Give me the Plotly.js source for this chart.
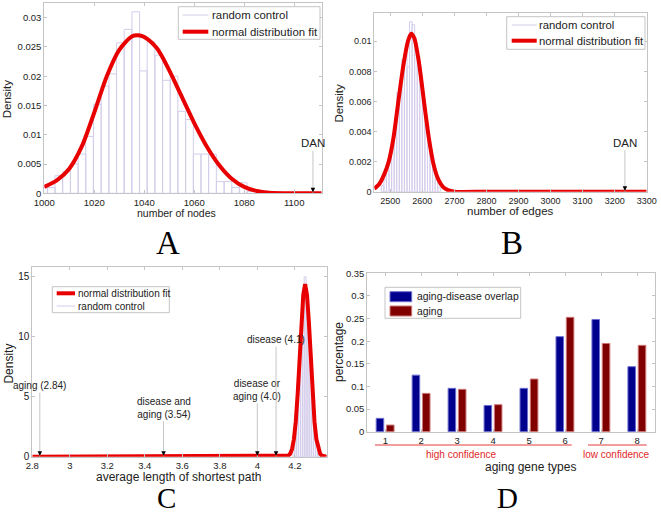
<!DOCTYPE html>
<html>
<head>
<meta charset="utf-8">
<script src="https://cdn.plot.ly/plotly-3.0.1.min.js"></script>
<style>html,body{margin:0;padding:0;background:#fff;}#chart{width:661px;height:516px;}</style>
</head>
<body>
<div id="chart"></div>
<script>
// ---------- Panel A: number of nodes ----------
const nodeBins = [999.7,1002.8,1005.8,1008.9,1012.0,1015.1,1018.1,1021.2,1024.3,1027.4,1030.4,1033.5,1036.6,1039.6,1042.7,1045.8,1048.9,1051.9,1055.0,1058.1,1061.2,1064.2,1067.3,1070.4,1073.5,1076.5,1079.6,1082.7];
const nodeDensity = [0.001,0.001,0.003,0.0037,0.005,0.0067,0.0097,0.0152,0.0183,0.0204,0.0257,0.028,0.031,0.0209,0.0259,0.0236,0.0193,0.020,0.014,0.0126,0.0067,0.0067,0.0067,0.002,0.002,0.001,0.0018,0.0003];
const nodeFitX = [1000,1005,1010,1015,1020,1025,1030,1035,1037.5,1040,1045,1050,1055,1060,1065,1070,1075,1080,1085,1090,1100,1111];
const nodeFitY = [0.0011,0.0022,0.0042,0.0080,0.0138,0.0200,0.0245,0.0268,0.0270,0.0267,0.0248,0.0210,0.0165,0.0120,0.0080,0.0048,0.0025,0.0011,0.0004,0.0001,0,0];
const nodeDAN = 1107.5;

// ---------- Panel B: number of edges ----------
const edgeBins = [2476,2484,2492,2500,2508,2516,2524,2532,2540,2548,2556,2564,2572,2580,2588,2596,2604,2612,2620,2628,2636,2644,2652];
const edgeDensity = [0.0004,0.0008,0.0014,0.0022,0.0032,0.0045,0.0066,0.0070,0.0088,0.0092,0.0083,0.0113,0.0111,0.0098,0.0090,0.0072,0.0060,0.0045,0.0036,0.0028,0.0015,0.0008,0.0003];
const edgeFitX = [2450,2465,2480,2495,2510,2525,2540,2555,2565,2575,2590,2605,2620,2635,2650,2665,2680,2700,2800,3300];
const edgeFitY = [0.0002,0.0005,0.0011,0.0020,0.0036,0.0060,0.0083,0.0100,0.0105,0.0102,0.0085,0.0060,0.0036,0.0018,0.0008,0.0003,0.0001,0,0,0];
const edgeDAN = 3232;

// ---------- Panel C: average length of shortest path ----------
const pathBins = [4.195,4.205,4.215,4.225,4.235,4.245,4.255,4.265,4.275,4.285,4.295,4.305,4.315,4.325,4.335];
const pathDensity = [1.2,3.1,5.0,8.4,11.0,13.8,15.0,13.2,11.4,7.8,5.4,2.8,1.3,0.5,0.2];
const pathFitX = [2.8,4.15,4.165,4.175,4.185,4.195,4.205,4.215,4.225,4.235,4.245,4.255,4.265,4.275,4.285,4.295,4.305,4.315,4.325,4.335,4.345,4.37];
const pathFitY = [0,0,0.08,0.24,0.63,1.45,2.9,5.2,8.1,11.2,13.5,14.4,13.5,11.2,8.1,5.2,2.9,1.45,0.63,0.24,0.08,0];
const pathMarkX = [2.84,3.5,4.0,4.1];
const pathMarkLabels = ['aging (2.84)','disease and<br>aging (3.54)','disease or<br>aging (4.0)','disease (4.1)'];

// ---------- Panel D: aging gene types ----------
const geneTypes = [1,2,3,4,5,6,7,8];
const overlapPct = [0.0295,0.125,0.0958,0.058,0.0958,0.21,0.248,0.1437];
const agingPct = [0.0147,0.0847,0.0936,0.0597,0.1164,0.2527,0.195,0.1908];
const groupLabels = ['high confidence','low confidence'];
const seriesNames = ['random control','normal distribution fit','aging-disease overlap','aging'];

// ---------- styling ----------
const W = 661, H = 516;
const px = x => x / W;
const py = y => 1 - y / H;
const RED = 'rgb(232,0,0)';
const HIST = 'rgb(212,204,234)';
const BLUE = 'rgb(0,0,140)', BLUE_E = 'rgb(110,110,210)';
const DRED = 'rgb(128,0,0)', DRED_E = 'rgb(205,120,120)';
const FONT = 'Liberation Sans, Arial, sans-serif';
const TXT = '#222';
const BOX = '#c4c4c4';

function axis(extra) {
  return Object.assign({
    showline: true, linecolor: BOX, linewidth: 1, mirror: 'ticks',
    ticks: 'inside', ticklen: 3, tickcolor: BOX,
    showgrid: false, zeroline: false,
    tickfont: {family: FONT, size: 9.5, color: TXT}
  }, extra);
}

const traces = [
  // A
  {type: 'bar', x: nodeBins, y: nodeDensity, width: 3.07, xaxis: 'x', yaxis: 'y', name: seriesNames[0],
   marker: {color: 'rgba(255,255,255,0)', line: {color: HIST, width: 1}}},
  {type: 'scatter', mode: 'lines', x: nodeFitX, y: nodeFitY, xaxis: 'x', yaxis: 'y', name: seriesNames[1],
   line: {color: RED, width: 4, shape: 'spline', smoothing: 0.8}},
  // B
  {type: 'bar', x: edgeBins, y: edgeDensity, width: 8, xaxis: 'x2', yaxis: 'y2', name: seriesNames[0],
   marker: {color: 'rgba(255,255,255,0)', line: {color: HIST, width: 1}}},
  {type: 'scatter', mode: 'lines', x: edgeFitX, y: edgeFitY, xaxis: 'x2', yaxis: 'y2', name: seriesNames[1],
   line: {color: RED, width: 4, shape: 'spline', smoothing: 0.6}},
  // C
  {type: 'bar', x: pathBins, y: pathDensity, width: 0.01, xaxis: 'x3', yaxis: 'y3', name: seriesNames[0],
   marker: {color: 'rgba(255,255,255,0)', line: {color: HIST, width: 1}}},
  {type: 'scatter', mode: 'lines', x: pathFitX, y: pathFitY, xaxis: 'x3', yaxis: 'y3', name: seriesNames[1],
   line: {color: RED, width: 4}},
  // D
  {type: 'bar', x: geneTypes, y: overlapPct, width: 0.21, offset: -0.253, xaxis: 'x4', yaxis: 'y4',
   name: seriesNames[2], marker: {color: BLUE, line: {color: BLUE_E, width: 1}}},
  {type: 'bar', x: geneTypes, y: agingPct, width: 0.21, offset: 0.034, xaxis: 'x4', yaxis: 'y4',
   name: seriesNames[3], marker: {color: DRED, line: {color: DRED_E, width: 1}}}
];

const annotations = [];
const shapes = [];
function txt(text, x, y, size, opts) {
  annotations.push(Object.assign({text: text, x: px(x), y: py(y), xref: 'paper', yref: 'paper',
    showarrow: false, xanchor: 'center', yanchor: 'middle', font: {family: FONT, size: size, color: TXT}}, opts || {}));
}
function pline(x0, y0, x1, y1, color, width) {
  shapes.push({type: 'line', xref: 'paper', yref: 'paper', x0: px(x0), x1: px(x1), y0: py(y0), y1: py(y1),
    line: {color: color, width: width}});
}
function prect(x0, y0, x1, y1, fill, color) {
  shapes.push({type: 'rect', xref: 'paper', yref: 'paper', x0: px(x0), x1: px(x1), y0: py(y0), y1: py(y1),
    fillcolor: fill, line: {color: color, width: 1}});
}
// legend: entries = [{kind, color, width, edge, label}]
function legend(x0, y0, x1, y1, rows, sx0, sx1, tx, size, entries) {
  prect(x0, y0, x1, y1, '#fff', BOX);
  entries.forEach((e, i) => {
    const y = rows[i];
    if (e.kind === 'line') pline(sx0, y, sx1, y, e.color, e.width);
    else prect(sx0, y - 5, sx1, y + 5, e.color, e.edge);
    txt(e.label, tx, y, size, {xanchor: 'left'});
  });
}
legend(178.3, 6.7, 320, 39.3, [15, 31.7], 182.7, 208.3, 209.5, 11.4, [
  {kind: 'line', color: HIST, width: 1, label: seriesNames[0]},
  {kind: 'line', color: RED, width: 4, label: seriesNames[1]}]);
legend(506.7, 16.7, 645, 49.3, [25, 40.7], 511.7, 536.7, 537, 11.3, [
  {kind: 'line', color: HIST, width: 1, label: seriesNames[0]},
  {kind: 'line', color: RED, width: 4, label: seriesNames[1]}]);
legend(52.3, 286.7, 169.3, 312.7, [293.3, 306], 56.7, 75, 76.2, 10, [
  {kind: 'line', color: RED, width: 4, label: seriesNames[1]},
  {kind: 'line', color: HIST, width: 1, label: seriesNames[0]}]);
legend(385, 287.3, 520.7, 318.3, [296.7, 311], 390, 411.7, 414.5, 10.4, [
  {kind: 'rect', color: BLUE, edge: BLUE_E, label: seriesNames[2]},
  {kind: 'rect', color: DRED, edge: DRED_E, label: seriesNames[3]}]);

// axis titles
txt('number of nodes', 176.7, 213.3, 10.5);
txt('Density', 7.3, 99, 11.5, {textangle: -90});
txt('number of edges', 510, 211, 11.5);
txt('Density', 339.3, 103.3, 11.5, {textangle: -90});
txt('average length of shortest path', 178.3, 477, 12);
txt('Density', 9.3, 363.3, 12, {textangle: -90});
txt('aging gene types', 530, 467, 12);
txt('percentage', 338.3, 351.7, 12, {textangle: -90});
// panel letters
const SERIF = {family: 'Liberation Serif, Times New Roman, serif', size: 33, color: '#000'};
const SERIF_LOW = {family: 'Liberation Serif, Times New Roman, serif', size: 29, color: '#000'};
txt('A', 168, 243, 33, {font: SERIF});
txt('B', 512, 243, 33, {font: SERIF});
txt('C', 166, 497.5, 29, {font: SERIF_LOW});
txt('D', 507, 497.5, 29, {font: SERIF_LOW});
// confidence groups
const CRED = 'rgb(225,40,40)';
pline(375, 445, 571.7, 445, 'rgb(230,60,60)', 1);
pline(588, 445, 646.7, 445, 'rgb(230,60,60)', 1);
txt(groupLabels[0], 461, 454.5, 10, {font: {family: FONT, size: 10, color: CRED}});
txt(groupLabels[1], 616.7, 454.5, 10, {font: {family: FONT, size: 10, color: CRED}});

function marker(xref, yref, x, label, ay, size) {
  annotations.push({x: x, y: 0, xref: xref, yref: yref, text: label, showarrow: true, arrowhead: 0,
    arrowwidth: 0.8, arrowcolor: '#b8b8b8', ax: 0, ay: ay, standoff: 0,
    font: {family: FONT, size: size, color: TXT}});
  annotations.push({x: x, y: 0, xref: xref, yref: yref, text: '', showarrow: true, arrowhead: 2,
    arrowsize: 0.9, arrowwidth: 1, arrowcolor: '#000', ax: 0, ay: -6, standoff: 1});
}
marker('x', 'y', nodeDAN, 'DAN', -50, 11.5);
marker('x2', 'y2', edgeDAN, 'DAN', -49, 11.5);
const pathAy = [-71, -49, -67, -117];
pathMarkX.forEach((x, i) => marker('x3', 'y3', x, pathMarkLabels[i], pathAy[i], 10));

const layout = {
  width: W, height: H, margin: {l: 0, r: 0, t: 0, b: 0},
  paper_bgcolor: '#fff', plot_bgcolor: '#fff',
  font: {family: FONT, color: TXT},
  barmode: 'overlay', showlegend: false,
  xaxis: axis({domain: [px(44.3), px(321.7)], range: [1000, 1111], tickvals: [1000,1020,1040,1060,1080,1100], anchor: 'y'}),
  yaxis: axis({domain: [py(193.3), py(3)], range: [0, 0.0325], tickvals: [0,0.005,0.01,0.015,0.02,0.025,0.03], anchor: 'x'}),
  xaxis2: axis({domain: [px(374.3), px(646.7)], range: [2450, 3300], tickvals: [2500,2600,2700,2800,2900,3000,3100,3200,3300], anchor: 'y2', tickfont: {family: FONT, size: 9, color: TXT}}),
  yaxis2: axis({domain: [py(191.7), py(12.7)], range: [0, 0.0119], tickvals: [0,0.002,0.004,0.006,0.008,0.01], anchor: 'x2', tickfont: {family: FONT, size: 9, color: TXT}}),
  xaxis3: axis({domain: [px(32.3), px(326.7)], range: [2.8, 4.37], tickvals: [2.8,3,3.2,3.4,3.6,3.8,4,4.2], anchor: 'y3', tickfont: {family: FONT, size: 9.5, color: TXT}}),
  yaxis3: axis({domain: [py(456.7), py(267.3)], range: [0, 15.8], tickvals: [0,5,10,15], anchor: 'x3', tickfont: {family: FONT, size: 10, color: TXT}}),
  xaxis4: axis({domain: [px(367.3), px(655)], range: [0.5, 8.5], tickvals: geneTypes, anchor: 'y4'}),
  yaxis4: axis({domain: [py(431.7), py(273.3)], range: [0, 0.35], tickvals: [0,0.05,0.1,0.15,0.2,0.25,0.3,0.35], anchor: 'x4'}),
  annotations: annotations,
  shapes: shapes
};

Plotly.newPlot('chart', traces, layout, {displayModeBar: false, staticPlot: true});
</script>
</body>
</html>
